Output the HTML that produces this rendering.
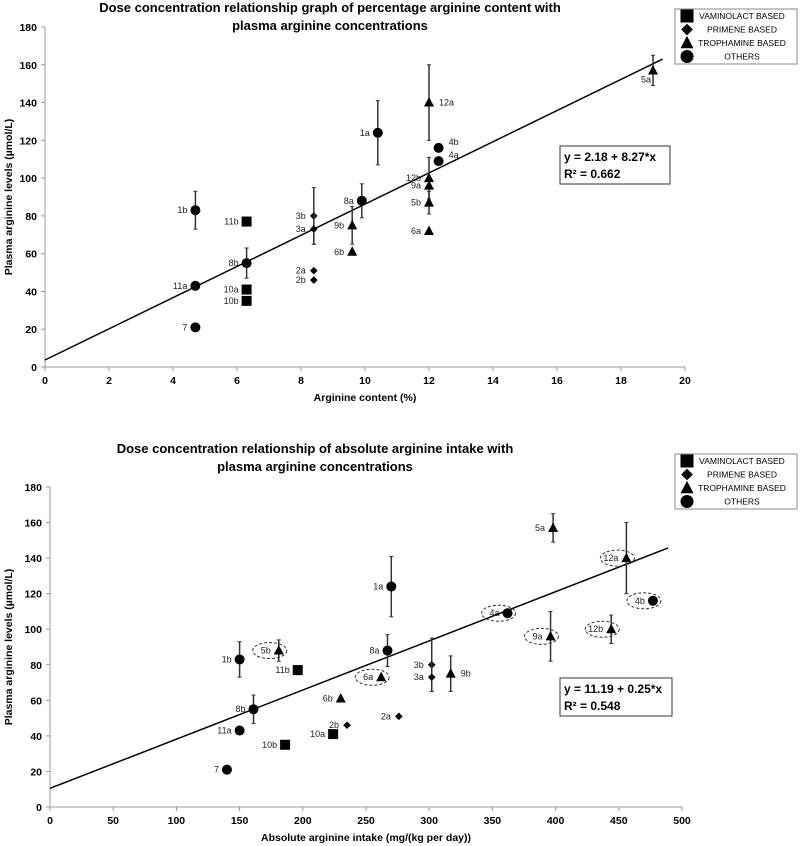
<!DOCTYPE html>
<html><head><meta charset="utf-8">
<style>
body{margin:0;background:#fff;}
svg{display:block;font-family:"Liberation Sans",Arial,sans-serif;}
.t{font-weight:bold;font-size:13px;}
.tick{font-weight:bold;font-size:10.5px;}
.lab{font-size:9px;fill:#222;}
.leg{font-size:8.5px;}
</style></head>
<body>
<svg id="c" width="800" height="846" xmlns="http://www.w3.org/2000/svg"></svg>
<script>
// Chart 1: percentage arginine content
const c1Labels=["1b","11a","7","8b","11b","10a","10b","3b","3a","2a","2b","9b","6b","8a","1a","12a","12b","9a","5b","6a","4b","4a","5a"];
const c1X=[4.7,4.7,4.7,6.3,6.3,6.3,6.3,8.4,8.4,8.4,8.4,9.6,9.6,9.9,10.4,12,12,12,12,12,12.3,12.3,19];
const c1Y=[83,43,21,55,77,41,35,80,73,51,46,75,61,88,124,140,100,96,87,72,116,109,157];
const c1Err=[10,0,0,8,0,0,0,15,8,0,0,10,0,9,17,20,11,0,6,0,0,0,8];
const c1Type=["o","o","o","o","s","s","s","d","d","d","d","t","t","o","o","t","t","t","t","t","o","o","t"];
const c1Right=["12a","4b","4a"];
const c1Below=["5a"];
const c1Line=[[0,3.7],[19.3,163]];
// Chart 2: absolute arginine intake
const c2Labels=["7","1b","11a","8b","5b","11b","10b","10a","6b","2b","6a","8a","1a","2a","3b","3a","9b","4a","9a","5a","12b","12a","4b"];
const c2X=[140,150,150,161,181,196,186,224,230,235,262,267,270,276,302,302,317,362,396,398,444,456,477];
const c2Y=[21,83,43,55,88,77,35,41,61,46,73,88,124,51,80,73,75,109,96,157,100,140,116];
const c2Err=[0,10,0,8,6,0,0,0,0,0,0,9,17,0,15,8,10,0,14,8,8,20,0];
const c2Type=["o","o","o","o","t","s","s","s","t","d","t","o","o","d","d","d","t","o","t","t","t","t","o"];
const c2Circled=["5b","6a","4a","9a","12b","12a","4b"];
const c2Right=["9b"];
const c2Below=[];
const c2Line=[[0,10.5],[489,145.7]];
const yTicks=[0,20,40,60,80,100,120,140,160,180];
const x1Ticks=[0,2,4,6,8,10,12,14,16,18,20];
const x2Ticks=[0,50,100,150,200,250,300,350,400,450,500];
const legendItems=["VAMINOLACT BASED","PRIMENE BASED","TROPHAMINE BASED","OTHERS"];
const legendTypes=["s","d","t","o"];

const NS="http://www.w3.org/2000/svg";
const svg=document.getElementById('c');
function mk(tag,attrs,parent,text){const e=document.createElementNS(NS,tag);for(const k in attrs)e.setAttribute(k,attrs[k]);if(text!==undefined)e.textContent=text;(parent||svg).appendChild(e);return e;}
function marker(g,type,cx,cy,s){
  let e;
  if(type==="o")e=mk('circle',{cx:cx,cy:cy,r:5*s,fill:'#000'},g);
  else if(type==="s")e=mk('rect',{x:cx-5*s,y:cy-5*s,width:10*s,height:10*s,fill:'#000'},g);
  else if(type==="d")e=mk('polygon',{points:`${cx},${cy-4.5*s} ${cx+4.5*s},${cy} ${cx},${cy+4.5*s} ${cx-4.5*s},${cy}`,fill:'#000'},g);
  else e=mk('polygon',{points:`${cx},${cy-5.5*s} ${cx+5*s},${cy+4*s} ${cx-5*s},${cy+4*s}`,fill:'#000'},g);
  return e;
}
function chart(o){
  const g=mk('g',{});
  
  
  const sx=v=>o.x0+(v-o.xmin)/(o.xmax-o.xmin)*(o.x1-o.x0);
  const sy=v=>o.y0-(v/180)*(o.y0-o.y1);
  o.title.forEach((t,i)=>{const e=mk('text',{x:o.tx,y:o.ty+i*18,'text-anchor':'middle',class:'t'},g,t);});
  mk('line',{x1:o.x0,y1:o.y0,x2:o.x1,y2:o.y0,stroke:'#999','stroke-width':1},g);
  mk('line',{x1:o.x0,y1:o.y0,x2:o.x0,y2:o.y1,stroke:'#999','stroke-width':1},g);
  yTicks.forEach(v=>{mk('line',{x1:o.x0-4,y1:sy(v),x2:o.x0,y2:sy(v),stroke:'#999'},g);
    const e=mk('text',{x:o.x0-8,y:sy(v)+4,'text-anchor':'end',class:'tick'},g,v);});
  o.xt.forEach(v=>{mk('line',{x1:sx(v),y1:o.y0,x2:sx(v),y2:o.y0+4,stroke:'#999'},g);
    const e=mk('text',{x:sx(v),y:o.y0+17,'text-anchor':'middle',class:'tick'},g,v);});
  let e=mk('text',{x:(o.x0+o.x1)/2,y:o.y0+34,'text-anchor':'middle',class:'tick'},g,o.xlabel);
  
  e=mk('text',{x:0,y:0,'text-anchor':'middle',class:'tick',transform:`translate(12,${(o.y0+o.y1)/2}) rotate(-90)`},g,"Plasma arginine levels (µmol/L)");
  
  e=mk('line',{x1:sx(o.line[0][0]),y1:sy(o.line[0][1]),x2:sx(o.line[1][0]),y2:sy(o.line[1][1]),stroke:'#000','stroke-width':1.5},g);
  
  o.X.forEach((xv,i)=>{
    const cx=sx(xv),cy=sy(o.Y[i]);
    if(o.E[i]>0){const b=mk('line',{x1:cx,y1:sy(o.Y[i]+o.E[i]),x2:cx,y2:sy(o.Y[i]-o.E[i]),stroke:'#333','stroke-width':1.5},g);
      
      mk('line',{x1:cx-2,y1:sy(o.Y[i]+o.E[i]),x2:cx+2,y2:sy(o.Y[i]+o.E[i]),stroke:'#333'},g);
      mk('line',{x1:cx-2,y1:sy(o.Y[i]-o.E[i]),x2:cx+2,y2:sy(o.Y[i]-o.E[i]),stroke:'#333'},g);}
    const m=marker(g,o.T[i],cx,cy,o.T[i]==="d"?0.85:1);
    
    
    let lx=cx-8,ly=cy+3,anc='end';
    if(o.right.includes(o.L[i])){lx=cx+10;anc='start';ly=cy+(o.L[i]==="4b"||o.L[i]==="4a"?-3:3);}
    if(o.below.includes(o.L[i])){lx=cx-2;ly=cy+12;}
    const l=mk('text',{x:lx,y:ly,'text-anchor':anc,class:'lab'},g,o.L[i]);
    
    if(o.circ && o.circ.includes(o.L[i])){
      const el=mk('ellipse',{cx:cx-9,cy:cy,rx:17,ry:8,fill:'none',stroke:'#333','stroke-dasharray':'3,2'},g);
      
    }
  });
  const lg=mk('g',{},g);
  
  mk('rect',{x:675,y:o.ly,width:122,height:55,fill:'#fff',stroke:'#888'},lg);
  legendItems.forEach((t,i)=>{const yy=o.ly+7+i*13.5;marker(lg,legendTypes[i],687,yy,1.3);
    const le=mk('text',{x:742,y:yy+3,'text-anchor':'middle',class:'leg'},lg,t);});
  const eg=mk('g',{},g);
  
  mk('rect',{x:560,y:o.ey,width:o.ew,height:38,fill:'#fff',stroke:'#333'},eg);
  mk('text',{x:564,y:o.ey+15,style:'font-weight:bold;font-size:12px'},eg,o.eq);
  mk('text',{x:564,y:o.ey+32,style:'font-weight:bold;font-size:12px'},eg,o.r2);
}
chart({name:'chart-percentage-content',x0:45,x1:685,xmin:0,xmax:20,y0:367,y1:27,xt:x1Ticks,
  X:c1X,Y:c1Y,E:c1Err,T:c1Type,L:c1Labels,right:c1Right,below:c1Below,line:c1Line,xlabel:"Arginine content (%)",
  title:["Dose concentration relationship graph of percentage arginine content with","plasma arginine concentrations"],tx:330,ty:12,ly:9,ey:146,ew:110,
  eq:"y = 2.18 + 8.27*x",r2:"R² = 0.662"});
chart({name:'chart-absolute-intake',x0:50,x1:682,xmin:0,xmax:500,y0:807,y1:487,xt:x2Ticks,
  X:c2X,Y:c2Y,E:c2Err,T:c2Type,L:c2Labels,right:c2Right,below:c2Below,line:c2Line,circ:c2Circled,xlabel:"Absolute arginine intake (mg/(kg per day))",
  title:["Dose concentration relationship of absolute arginine intake with","plasma arginine concentrations"],tx:315,ty:453,ly:454,ey:678,ew:112,
  eq:"y = 11.19 + 0.25*x",r2:"R² = 0.548"});
</script>
</body></html>
